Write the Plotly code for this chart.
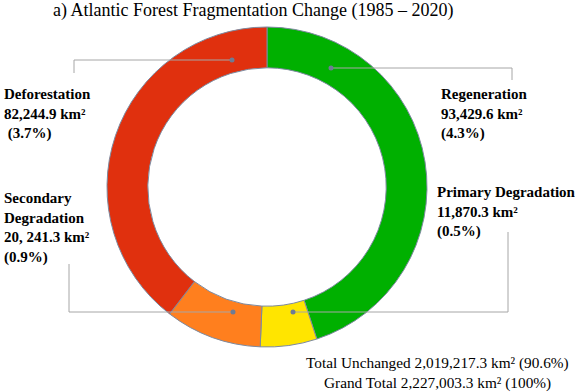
import plotly.graph_objects as go

# Data
categories = ['Regeneration', 'Primary Degradation', 'Secondary Degradation', 'Deforestation']
areas = [93429.6, 11870.3, 20241.3, 82244.9]
colors = ['#00B000', '#FFE500', '#FF7F1E', '#E0300E']
label_texts = [
    '<b>Regeneration<br>93,429.6 km²<br>(4.3%)</b>',
    '<b>Primary Degradation<br>11,870.3 km²<br>(0.5%)</b>',
    '<b>Secondary<br>Degradation<br>20, 241.3 km²<br>(0.9%)</b>',
    '<b>Deforestation<br>82,244.9 km²<br> (3.7%)</b>',
]

W, H = 575, 392
FONT = 'Liberation Serif, Times New Roman, serif'


def px(x):
    return x / W


def py(y):
    return 1 - y / H


fig = go.Figure()
fig.add_trace(go.Pie(
    labels=categories,
    values=areas,
    hole=0.745,
    sort=False,
    direction='clockwise',
    rotation=0,
    marker=dict(colors=colors, line=dict(color='#7d8aa0', width=1)),
    textinfo='none',
    hoverinfo='label+value',
    domain=dict(x=[px(107), px(427)], y=[py(347), py(27)]),
    showlegend=False,
))

# connector lines (leader lines) in pixel coords
leaders = [
    [(232, 60), (74, 60), (74, 73)],       # Deforestation
    [(331, 68), (512, 68), (512, 80)],     # Regeneration
    [(293, 312), (508, 312), (508, 232)],  # Primary Degradation
    [(233, 312), (69, 312), (69, 264)],    # Secondary Degradation
]
shapes = []
for pts in leaders:
    path = 'M ' + ' L '.join(f'{px(x)},{py(y)}' for x, y in pts)
    shapes.append(dict(type='path', path=path, xref='paper', yref='paper',
                       line=dict(color='#a6a6a6', width=1)))
    x0, y0 = pts[0]
    shapes.append(dict(type='circle', xref='paper', yref='paper',
                       x0=px(x0 - 2.5), x1=px(x0 + 2.5), y0=py(y0 + 2.5), y1=py(y0 - 2.5),
                       fillcolor='#6d7c94', line=dict(width=0)))

label_pos = [(439, 84), (435, 182), (2, 188), (2, 84)]
annotations = []
for (x, y), t in zip(label_pos, label_texts):
    annotations.append(dict(x=px(x), y=py(y), xref='paper', yref='paper', text=t,
                            showarrow=False, xanchor='left', yanchor='top', align='left',
                            font=dict(family=FONT, size=15, color='black')))

annotations.append(dict(x=px(437), y=py(363), xref='paper', yref='paper',
                        xanchor='center', yanchor='middle',
                        text='Total Unchanged 2,019,217.3 km² (90.6%)', showarrow=False,
                        font=dict(family=FONT, size=15.3, color='black')))
annotations.append(dict(x=px(437), y=py(383), xref='paper', yref='paper',
                        xanchor='center', yanchor='middle',
                        text='Grand Total 2,227,003.3 km² (100%)', showarrow=False,
                        font=dict(family=FONT, size=15.3, color='black')))
annotations.append(dict(x=px(253), y=py(11), xref='paper', yref='paper',
                        xanchor='center', yanchor='middle',
                        text='a) Atlantic Forest Fragmentation Change (1985 – 2020)',
                        showarrow=False,
                        font=dict(family=FONT, size=18, color='black')))

fig.update_layout(
    width=W, height=H,
    margin=dict(l=0, r=0, t=0, b=0),
    paper_bgcolor='white',
    plot_bgcolor='white',
    shapes=shapes,
    annotations=annotations,
)

fig.write_html('out.html', config={'displayModeBar': False},
               post_script="document.body.style.margin='0';")
